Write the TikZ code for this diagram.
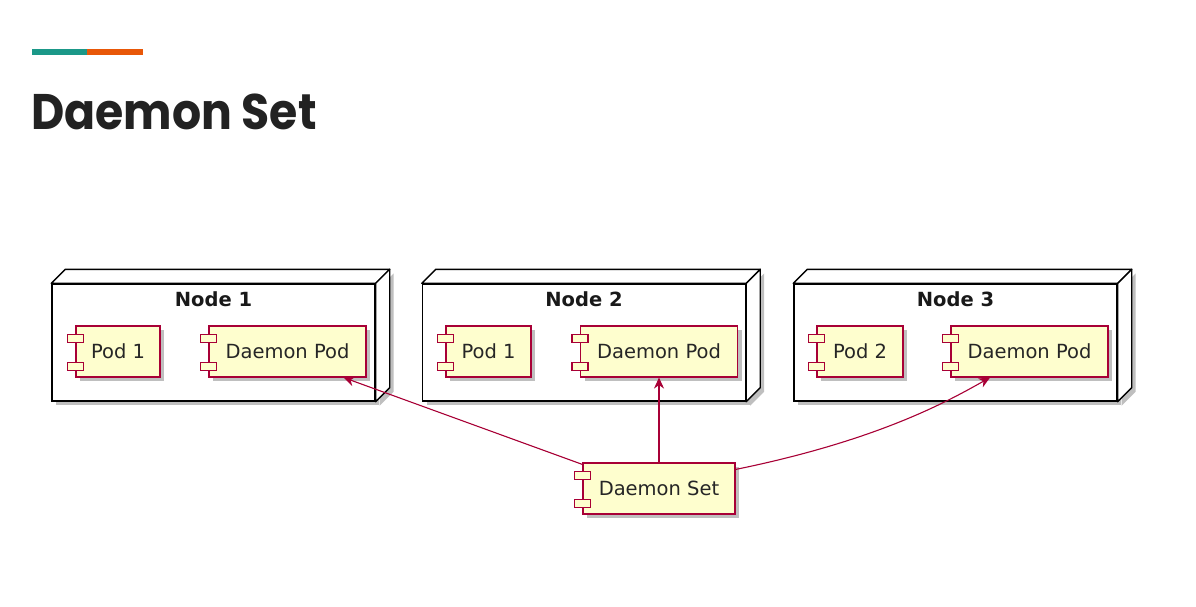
\documentclass[tikz,border=0pt]{standalone}
\usepackage{fontspec}
\setmainfont{DejaVu Sans}
\newfontfamily\titlefont{Poppins}
\usetikzlibrary{calc,arrows.meta,shadows}

\definecolor{umlred}{HTML}{A80036}
\definecolor{umlfill}{HTML}{FEFECE}
\definecolor{barteal}{RGB}{27,152,136}
\definecolor{barorange}{RGB}{232,87,8}
\definecolor{titleink}{HTML}{222222}

\tikzset{
  umlshadow/.style={drop shadow={shadow xshift=4pt, shadow yshift=-4pt, fill=black, opacity=0.25}},
  comp/.style={draw=umlred, fill=umlfill, line width=1.1pt, minimum height=51pt,
    inner sep=0pt, font=\fontsize{19.5}{22}\selectfont, text=black!85, umlshadow},
  comptab/.style={draw=umlred, fill=umlfill, line width=1.1pt},
  hostbox/.style={draw=black, fill=white, line width=1.4pt, minimum width=323pt,
    minimum height=117pt, inner sep=0pt, umlshadow},
  hostface/.style={draw=black, fill=white, line width=1.4pt, line join=round},
  hostlabel/.style={font=\bfseries\fontsize{19.5}{22}\selectfont, inner sep=0pt, text=black!90},
  conn/.style={draw=umlred, line width=1.1pt, -{Stealth[length=11pt,width=10pt,inset=3.5pt]}},
}

% the two port tabs on the left edge of a component box
\newcommand\comptabs[1]{%
  \draw[comptab] ($(#1.north west)+(-8,9)$) rectangle ++(16,8);
  \draw[comptab] ($(#1.south west)+(-8,-15)$) rectangle ++(16,8);
}
% a node drawn as a box with depth (top and right faces)
\newcommand\hostdepth[1]{%
  \path[hostface] (#1.north west) -- ++(14,-14) -- ($(#1.north east)+(14,-14)$) -- (#1.north east) -- cycle;
  \path[hostface, umlshadow] (#1.north east) -- ++(14,-14) -- ($(#1.south east)+(14,-14)$) -- (#1.south east) -- cycle;
}

\begin{document}
\begin{tikzpicture}[x=1pt, y=-1pt]
  \useasboundingbox[fill=white] (0,0) rectangle (1196,607);

  % heading
  \fill[barteal] (32,49) rectangle (87,55);
  \fill[barorange] (87,49) rectangle (143,55);
  \node[anchor=base west, inner sep=0pt, text=titleink,
        font=\titlefont\bfseries\fontsize{50}{60}\selectfont] (title) at (31,130)
        {\scalebox{0.915}[1]{Daemon Set}};

  % nodes
  \node[hostbox] (n1) at (213.5,342.5) {};
  \hostdepth{n1}
  \node[hostbox] (n2) at (584,342.5) {};
  \hostdepth{n2}
  \node[hostbox] (n3) at (955.5,342.5) {};
  \hostdepth{n3}

  \node[hostlabel] (n1label) at ($(n1.north)+(0,16)$) {Node 1};
  \node[hostlabel] (n2label) at ($(n2.north)+(0,16)$) {Node 2};
  \node[hostlabel] (n3label) at ($(n3.north)+(0,16)$) {Node 3};

  % components
  \node[comp, minimum width=84pt]  (p11) at (118,351.5) {Pod 1};
  \comptabs{p11}
  \node[comp, minimum width=157pt] (dp1) at (287.5,351.5) {Daemon Pod};
  \comptabs{dp1}
  \node[comp, minimum width=85pt]  (p21) at (488.5,351.5) {Pod 1};
  \comptabs{p21}
  \node[comp, minimum width=157pt] (dp2) at (659,351.5) {Daemon Pod};
  \comptabs{dp2}
  \node[comp, minimum width=86pt]  (p32) at (860,351.5) {Pod 2};
  \comptabs{p32}
  \node[comp, minimum width=157pt] (dp3) at (1029.5,351.5) {Daemon Pod};
  \comptabs{dp3}
  \node[comp, minimum width=152pt] (dset) at (659,488.5) {Daemon Set};
  \comptabs{dset}

  % connectors
  \draw[conn] ($(dset.north west)+(0,2)$) -- ($(dp1.south east)+(-23,0)$);
  \draw[conn] (dset.north) -- (dp2.south);
  \draw[conn] ($(dset.north east)+(0,7)$) .. controls (880,440) and (950,400) .. ($(dp3.south)+(-39.5,0)$);
\end{tikzpicture}
\end{document}
